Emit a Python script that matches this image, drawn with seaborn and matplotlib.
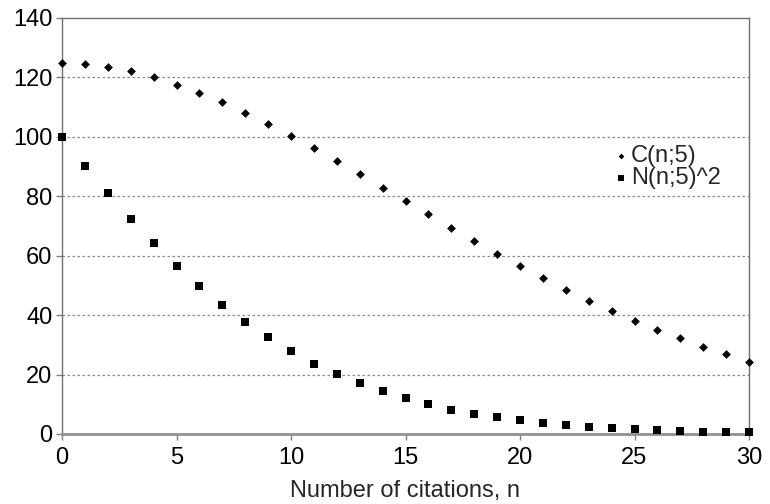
import matplotlib
matplotlib.use("Agg")
import matplotlib.pyplot as plt
import seaborn as sns
import pandas as pd

n_values = list(range(0, 31))
c_values = [125, 124.4, 123.5, 122, 120, 117.6, 114.9, 111.7, 108.1, 104.4, 100.4,
            96.2, 91.8, 87.4, 82.8, 78.3, 73.9, 69.2, 65.1, 60.6, 56.4,
            52.5, 48.6, 44.9, 41.4, 38.1, 35.0, 32.2, 29.4, 26.8, 24.3]
n2_values = [100.1, 90.3, 81.0, 72.4, 64.2, 56.7, 49.8, 43.4, 37.7, 32.5, 27.8,
             23.7, 20.2, 17.1, 14.4, 12.1, 10.0, 8.2, 6.8, 5.7, 4.6,
             3.8, 3.0, 2.5, 2.0, 1.6, 1.2, 1.0, 0.8, 0.7, 0.6]
series_labels = ["C(n;5)", "N(n;5)^2"]
x_ticks = [0, 5, 10, 15, 20, 25, 30]
y_ticks = [0, 20, 40, 60, 80, 100, 120, 140]

sns.set_theme(style="white")
plt.rcParams['font.family'] = ['Liberation Sans', 'DejaVu Sans']

fig = plt.figure(figsize=(7.7, 5.04), dpi=100)
ax = fig.add_axes([62/770, 1-434/504, (749-62)/770, (434-18)/504])

df_c = pd.DataFrame({"n": n_values, "v": c_values})
df_n = pd.DataFrame({"n": n_values, "v": n2_values})

sns.scatterplot(data=df_c, x="n", y="v", ax=ax, marker="D", s=20, color="black",
                edgecolor="black", linewidth=0, label=series_labels[0], clip_on=False, zorder=3)
sns.scatterplot(data=df_n, x="n", y="v", ax=ax, marker="s", s=34, color="black",
                edgecolor="black", linewidth=0, label=series_labels[1], clip_on=False, zorder=3)

ax.set_xlim(0, 30)
ax.set_ylim(0, 140)
ax.set_xticks(x_ticks)
ax.set_yticks(y_ticks)
ax.tick_params(axis="both", labelsize=17, colors="#808080", labelcolor="black",
               length=4, width=1, direction="out", left=True, bottom=True, pad=3)
ax.tick_params(axis="x", pad=5)
for v in y_ticks[1:-1]:
    ax.axhline(v, color="#888888", linestyle=(0, (2, 2)), linewidth=0.9, zorder=1)

for side in ["left", "top", "right"]:
    ax.spines[side].set_color("#707070")
    ax.spines[side].set_linewidth(1)
ax.spines["bottom"].set_color("#909090")
ax.spines["bottom"].set_linewidth(2)

ax.set_xlabel("Number of citations, n", fontsize=17, labelpad=8)
ax.set_ylabel("")

leg = ax.legend(loc="center left", bbox_to_anchor=(0.78, 0.641), frameon=False,
                fontsize=17, handletextpad=-0.1, labelspacing=0.0,
                handlelength=1.0, borderpad=0, markerscale=0.65)

fig.savefig("out.png", dpi=100)
